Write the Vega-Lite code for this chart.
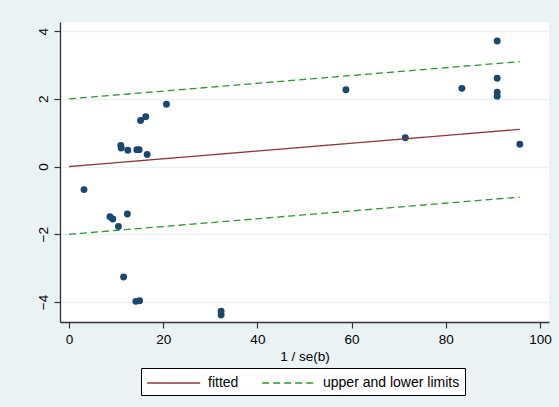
{
  "$schema": "https://vega.github.io/schema/vega-lite/v6.json",
  "width": 489,
  "height": 300,
  "autosize": {"type": "none"},
  "padding": {"left": 60, "top": 22, "right": 10, "bottom": 85},
  "background": "#EAF2F3",
  "config": {
    "font": "Liberation Sans",
    "view": {"fill": "white", "stroke": null},
    "axis": {
      "labelFont": "Liberation Sans",
      "labelFontSize": 13.5,
      "labelColor": "black",
      "titleFont": "Liberation Sans",
      "titleFontSize": 13.5,
      "titleFontWeight": "normal",
      "titleColor": "black",
      "domainColor": "#333333",
      "domainWidth": 1.3,
      "tickColor": "#333333",
      "tickSize": 6,
      "tickWidth": 1.2
    },
    "legend": {
      "labelFont": "Liberation Sans",
      "labelFontSize": 14,
      "labelColor": "black"
    }
  },
  "datasets": {
    "pts": [
      {"x": 3.2, "y": -0.68},
      {"x": 8.7, "y": -1.48},
      {"x": 9.3, "y": -1.55},
      {"x": 12.4, "y": -1.40},
      {"x": 10.5, "y": -1.77},
      {"x": 11.6, "y": -3.26},
      {"x": 14.2, "y": -3.98},
      {"x": 15.0, "y": -3.96},
      {"x": 32.3, "y": -4.27},
      {"x": 32.3, "y": -4.38},
      {"x": 11.0, "y": 0.62},
      {"x": 11.1, "y": 0.55},
      {"x": 12.5, "y": 0.48},
      {"x": 14.4, "y": 0.50},
      {"x": 14.9, "y": 0.50},
      {"x": 16.6, "y": 0.36},
      {"x": 15.2, "y": 1.36},
      {"x": 16.3, "y": 1.47},
      {"x": 20.7, "y": 1.84},
      {"x": 58.8, "y": 2.27},
      {"x": 83.4, "y": 2.31},
      {"x": 90.9, "y": 3.71},
      {"x": 90.9, "y": 2.61},
      {"x": 90.9, "y": 2.20},
      {"x": 90.9, "y": 2.08},
      {"x": 71.4, "y": 0.85},
      {"x": 95.7, "y": 0.66}
    ],
    "lines": [
      {"x": 0, "y": 0, "series": "fitted", "line": "fit"},
      {"x": 95.7, "y": 1.10, "series": "fitted", "line": "fit"},
      {"x": 0, "y": 2, "series": "upper and lower limits", "line": "upper"},
      {"x": 95.7, "y": 3.10, "series": "upper and lower limits", "line": "upper"},
      {"x": 0, "y": -2, "series": "upper and lower limits", "line": "lower"},
      {"x": 95.7, "y": -0.90, "series": "upper and lower limits", "line": "lower"}
    ]
  },
  "layer": [
    {
      "data": {"name": "pts"},
      "mark": {"type": "point", "filled": true, "opacity": 1, "size": 48, "color": "#1a476f"},
      "encoding": {
        "x": {
          "field": "x", "type": "quantitative",
          "scale": {"domain": [-1.9, 101.9], "nice": false, "zero": false},
          "axis": {"values": [0, 20, 40, 60, 80, 100], "grid": false, "title": "1 / se(b)", "labelPadding": 4, "titlePadding": 4}
        },
        "y": {
          "field": "y", "type": "quantitative",
          "scale": {"domain": [-4.59, 4.27], "nice": false, "zero": false},
          "axis": {"values": [-4, -2, 0, 2, 4], "grid": true, "gridColor": "#EAF2F3", "gridWidth": 1.5, "title": null, "labelAngle": -90, "labelPadding": 4}
        }
      }
    },
    {
      "data": {"name": "lines"},
      "mark": {"type": "line", "strokeWidth": 1.3},
      "encoding": {
        "x": {"field": "x", "type": "quantitative"},
        "y": {"field": "y", "type": "quantitative"},
        "detail": {"field": "line"},
        "color": {
          "field": "series", "type": "nominal",
          "scale": {"domain": ["fitted", "upper and lower limits"], "range": ["#90353b", "#2a9a2a"]},
          "legend": {
            "title": null, "orient": "none", "legendX": 81, "legendY": 346,
            "direction": "horizontal",
            "fillColor": "white", "strokeColor": "black", "padding": 5,
            "symbolType": "M-1,0H5", "symbolSize": 313, "symbolStrokeWidth": 1.5,
            "labelOffset": 42, "columnPadding": 20
          }
        },
        "strokeDash": {
          "field": "series", "type": "nominal",
          "scale": {"domain": ["fitted", "upper and lower limits"], "range": [[1, 0], [7, 4]]},
          "legend": {
            "title": null, "orient": "none", "legendX": 81, "legendY": 346,
            "direction": "horizontal",
            "fillColor": "white", "strokeColor": "black", "padding": 5,
            "symbolType": "M-1,0H5", "symbolSize": 313, "symbolStrokeWidth": 1.5,
            "labelOffset": 42, "columnPadding": 20
          }
        }
      }
    }
  ]
}
